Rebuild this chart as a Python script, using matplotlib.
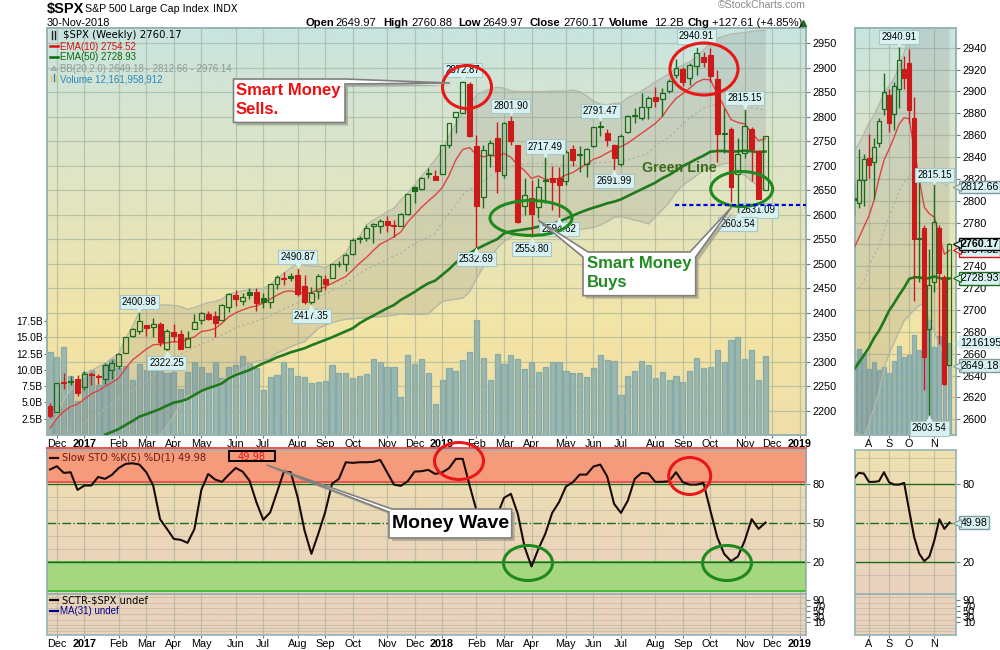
import numpy as np
import matplotlib
matplotlib.use("Agg")
import matplotlib.pyplot as plt
from matplotlib.colors import LinearSegmentedColormap
from matplotlib.patches import Ellipse, Polygon, Rectangle
from matplotlib.transforms import offset_copy

plt.rcParams['font.family'] = ['Liberation Sans', 'DejaVu Sans']

# ---------------- data (weekly bars) ----------------
opens = [2210,2198,2258.5,2259,2264.6,2249.6,2276,2272,2265,2284,
         2292.4,2319,2353,2363.8,2375,2370.5,2377.4,2327,2360.4,2356.3,
         2331,2368,2386,2398.4,2393,2385.5,2411,2435.8,2425,2442.6,
         2442.6,2430,2423,2458,2471,2474.5,2477.2,2454.8,2422,2445,
         2469,2471.8,2499,2499,2519.3,2552,2553.3,2577.1,2577.1,2586.6,
         2579.1,2577.7,2600.8,2655.9,2651.8,2684.4,2679,2682.4,2741.5,2798.5,
         2808,2866.5,2740.1,2635.5,2721.8,2756.4,2680.3,2791,2742.1,2618.5,
         2634,2616.4,2670.8,2674.9,2674.9,2668.1,2734,2724.5,2704,2740.8,
         2780.9,2766.6,2742.1,2703.4,2768,2802.5,2797.8,2818.9,2839.3,2835.2,
         2852.9,2884.1,2897,2879.4,2902.5,2920.8,2925.6,2876,2766,2774.7,
         2682.4,2725.2,2775.4,2730.6,2649.97]
highs = [2216,2258,2277,2271,2273,2281.6,2280,2275,2298.5,2304,
         2317.6,2350,2368.5,2400.98,2376,2389.6,2381,2366.5,2377.4,2365,
         2362,2398,2402.5,2404,2404.5,2419,2441,2446.6,2441,2451.4,
         2451.4,2440,2458,2477,2484,2480.6,2490.87,2477,2453.4,2479,
         2477,2499,2505.7,2521.4,2552,2557,2579,2582.5,2591,2597.4,
         2589,2602.9,2641.6,2658.6,2677.6,2694.6,2691.2,2741.5,2787,2810,
         2872.87,2870.5,2762.5,2742.1,2752.3,2788.3,2789.7,2801.9,2742.1,2674.2,
         2670.8,2674.2,2717.49,2699.3,2698,2732,2742.1,2740,2735.3,2778.5,
         2791.47,2774,2744.2,2763.9,2803.3,2816.9,2847.4,2842.7,2861,2857.6,
         2876,2916.7,2901.8,2908.6,2940.91,2932.3,2939.1,2895,2816.9,2778.2,
         2755.7,2815.15,2778.2,2732,2760.88]
lows = [2186,2198,2245,2253,2231,2243,2252,2255,2255,2265,
        2285.6,2319,2351.5,2357,2353,2351.5,2333,2322.25,2341.3,2327,
        2331,2368,2377,2385.5,2351.5,2385.5,2402.5,2414,2416,2428.3,
        2404.5,2409.3,2410.6,2448.7,2457,2465.6,2434,2418,2417.35,2427.6,
        2446.6,2470.4,2494,2486,2518,2542,2547,2543,2563.5,2565.5,
        2555.3,2577.7,2599.5,2623.3,2650.4,2674.2,2670.8,2682.4,2735.4,2766,
        2806.7,2759.1,2532.69,2613,2696.6,2645,2674.2,2742.1,2583.8,2599.5,
        2553.8,2592.7,2623.2,2609.7,2594.62,2660.6,2699.3,2687.8,2676.2,2738.7,
        2760.5,2740,2691.99,2699.3,2765.9,2786.3,2793.1,2795.1,2820.3,2801.2,
        2848.8,2878,2862.4,2864.4,2884.8,2901.8,2871.2,2708.2,2725.2,2626.7,
        2603.54,2716.3,2668.8,2631.09,2649.97]
closes = [2190,2258,2256,2262,2237.4,2275,2273.5,2269.4,2293,2297,
          2316,2350,2366.5,2383,2369,2377,2341,2362.4,2353,2327,
          2348,2382,2399,2387.5,2379.4,2415.4,2437.8,2429,2431.7,2436.4,
          2421,2423,2458,2472.4,2469.7,2472,2438.5,2422,2440,2475,
          2458,2499,2500.3,2518,2548.5,2550.6,2573.7,2581.2,2586.6,2579.8,
          2576.4,2600.8,2641.6,2649.1,2674.2,2682.4,2671.5,2741.5,2786.3,2808.7,
          2871,2760.5,2618.5,2731.3,2745.5,2689.8,2786.3,2750.3,2585.2,2639.5,
          2602.2,2656.5,2669.4,2666.7,2661.3,2727.9,2711.6,2721.1,2734,2778.1,
          2778.9,2752.3,2716.3,2760.5,2800.6,2801,2818.9,2837.9,2832.5,2848.8,
          2873.2,2899.7,2871.2,2904.5,2929,2912,2883.4,2764.5,2765,2657.2,
          2723.1,2780.2,2734,2632.56,2760.17]
volume = [12.7,11.9,13.5,9.05,5.17,9.7,9.9,7.6,10.85,11.6,
          10.2,10.6,8.4,10.85,9.9,10.4,10.4,9.5,9.6,7.0,
          9.6,11.15,10.5,9.5,11.15,8.8,10.5,10.7,12.1,11,
          10.2,6.9,8.85,9.15,11.15,10.2,9.05,8.85,7.9,8.1,
          8.3,10.7,9.5,9.5,8.7,9.0,9.3,11.6,11.15,10.5,
          10.5,5.9,12.2,10.85,11.6,9.5,4.7,8.4,10.2,9.75,
          11.5,12.7,17.6,11.8,8.4,12.4,10.85,12.2,11.6,10.1,
          11.15,9.6,10.4,11.15,11.15,9.8,9.5,9.5,8.85,10.2,
          12.2,11.45,11.3,6.2,9,9.8,11.3,10.7,8.7,9.6,
          8.5,9,8.1,9.8,11.75,10.2,10.5,13.1,11.15,14.5,
          15.1,11.6,13,8.4,12.16]
ema10 = [2165,2185,2199,2209,2214,2224,2235,2241,2250,2258,
         2267,2287,2304,2315,2326,2335,2336,2339,2341,2341,
         2346,2351,2362,2364,2368,2379,2392,2400,2406,2411,
         2414,2420,2428,2436,2443,2445,2441,2441,2441,2448,
         2453,2460,2467,2474,2487,2501,2513,2527,2540,2547,
         2555,2565,2585,2600,2615,2628,2640,2655,2680,2712,
         2733,2737,2722,2718,2722,2718,2725,2717,2701,2690,
         2674,2679,2672,2672,2674,2681,2686,2695,2703,2713,
         2718,2726,2733,2739,2746,2756,2766,2776,2786,2800,
         2820,2837,2847,2858,2870,2876,2875,2847,2820,2794,
         2788,2785,2767,2751,2754.52]
nan = float('nan')
ema50 = [nan,nan,nan,nan,nan,nan,nan,nan,2151.8,2157.3,
         2163.4,2171.5,2179.7,2188.5,2193.3,2198.7,2204.1,2210.9,2217,2219.8,
         2224.5,2232.7,2240.8,2246.3,2251,2256.4,2266.6,2273.4,2278.2,2283.6,
         2290.4,2297.2,2302.6,2309.4,2314.2,2319.6,2323.7,2327.8,2333.9,2339.3,
         2344.7,2350.2,2356.3,2362.4,2368.5,2378.7,2386.9,2394.3,2401.8,2409.3,
         2416,2426.3,2434.4,2442.6,2452,2460.2,2465.7,2477.2,2488.8,2502.3,
         2513.2,2521.4,2530,2537,2543.8,2550,2562,2566.2,2568.2,2570.3,
         2572.3,2575.7,2578.4,2581.1,2585.9,2592,2598.1,2604.2,2609.7,2614.4,
         2618.5,2623.2,2626.6,2631.4,2638.2,2645,2651.8,2658.6,2665.4,2674.2,
         2681,2689.8,2699.3,2706.1,2713.6,2720.4,2728.5,2729.9,2729.9,2728.5,
         2729.2,2730.6,2729.2,2727.8,2728.93]
bb_upper = [2168,2189,2222,2243,2256,2270,2282,2290,2297,2307,
            2318,2348,2372,2403,2411,2414,2416,2416,2415,2413,
            2407,2411,2416,2421,2423,2428,2439,2441,2445,2447,
            2448,2450,2457,2470,2481,2491,2501,2497,2495,2495,
            2492,2500,2511,2523,2545,2556,2579,2589,2597,2606,
            2613,2630,2644,2661,2678,2695,2712,2732,2759,2786,
            2807,2824,2844,2851,2856,2860,2858,2852,2851,2851,
            2851,2851,2851,2852,2852,2852,2854,2851,2842,2832,
            2825,2824,2827,2828,2838,2845,2852,2861,2871,2878,
            2888,2898,2905,2912,2922,2936,2949,2959,2964,2968,
            2970,2971,2974,2975,2976.14]
bb_mid = [2150,2153,2157,2162,2170,2178,2186,2194,2205,2214,
          2223,2232,2241,2251,2261,2272,2283,2296,2307,2316,
          2322,2330,2337,2342,2347,2355,2362,2370,2375,2379,
          2383,2388,2394,2402,2408,2414,2420,2430,2432,2434,
          2438,2445,2450,2460,2470,2480,2489,2495,2501,2509,
          2516,2521,2532,2541,2548,2554,2562,2585,2603,2620,
          2640,2652,2660,2668,2678,2688,2696,2699,2701,2703,
          2704,2705,2705,2703,2701,2701,2701,2702,2703,2705,
          2706,2707,2708,2710,2712,2716,2720,2726,2740,2750,
          2758,2772,2785,2797,2808,2817,2822,2826,2827,2826,
          2824,2821,2818,2815,2812.66]
bb_lower = [2132,2117,2092,2081,2084,2086,2090,2098,2113,2121,
            2128,2116,2110,2099,2111,2130,2150,2168,2189,2219,
            2231,2234,2237,2243,2253,2263,2270,2277,2287,2296,
            2301,2304,2307,2318,2324,2331,2337,2341,2355,2368,
            2375,2380,2384,2387,2388,2389,2390,2391,2392,2394,
            2395,2398,2397,2397,2397,2398,2411,2423,2426,2428,
            2430,2443,2470,2494,2511,2532,2545,2555,2560,2560,
            2560,2560,2561,2562,2563,2564,2567,2570,2572,2574,
            2579,2586,2595,2596,2593,2589,2586,2581,2596,2610,
            2625,2646,2660,2670,2680,2690,2695,2700,2704,2706,
            2690,2680,2668,2658,2649.18]
sto = [90.8,93.3,88.2,88.7,75.1,78.5,78.5,85.1,83.6,86.7,
       92,95.1,95.6,94.6,88.7,78.5,52.6,45.1,37.4,36.7,
       34.4,45.1,75.1,87.4,83.1,81.3,86.9,92,89.2,82.3,
       65.7,52.1,57.7,73.3,89.2,88.7,69.5,43.9,25.9,41.3,
       58,79.8,83.6,96.4,95.9,96.4,96.4,96.7,98.2,88.7,
       79.2,78.2,81.8,89.2,89.5,90.5,87.4,88.5,91.8,99,
       99,78.5,59.2,38.7,46.4,55.4,69,72.1,56.7,31,
       16.2,29.7,41.3,57.4,65.7,77.7,81,86.9,86.9,93.1,
       94.6,85.4,64.4,57.4,66.9,83.6,88.2,87.7,81.3,81.3,
       81.8,88.7,81,79.2,79.2,80.5,59.2,38.7,25.9,20.3,
       23.8,36.2,52.6,45.1,49.98]

price_ticks = list(range(2200, 2951, 50))
zoom_price_ticks = list(range(2600, 2941, 20))
volume_ticks = [2.5, 5.0, 7.5, 10.0, 12.5, 15.0, 17.5]
month_pos = [1,5,10,14,18,22,27,31,36,40,44,49,53,57,62,66,70,75,79,83,88,92,96,101,105,109]
month_labels = ['Dec','2017','Feb','Mar','Apr','May','Jun','Jul','Aug','Sep','Oct','Nov','Dec',
                '2018','Feb','Mar','Apr','May','Jun','Jul','Aug','Sep','Oct','Nov','Dec','2019']
zoom_month_pos = [88,92,96,101]
zoom_month_labels = ['A','S','O','N']
# (bar, price, text, vertical label offset in px)
main_peaks = [(13,2400.98,'2400.98',-10),(17,2322.25,'2322.25',12),(36,2490.87,'2490.87',-11),
              (38,2417.35,'2417.35',12),(62,2532.69,'2532.69',11.5),(70,2553.80,'2553.80',12),
              (74,2594.62,'2594.62',12),(60,2872.87,'2872.87',-11),(67,2801.90,'2801.90',-10),
              (72,2717.49,'2717.49',-10.5),(80,2791.47,'2791.47',-10),(82,2691.99,'2691.99',11.5),
              (94,2940.91,'2940.91',-11),(101,2815.15,'2815.15',-11),(103,2631.09,'2631.09',11),
              (100,2603.54,'2603.54',11)]
zoom_peaks = [(94,2940.91,'2940.91',-10),(101,2815.15,'2815.15',-9),(100,2603.54,'2603.54',13)]

# ---------------- layout helpers ----------------
W, H = 1000, 650
BORDER = '#96B4B4'
GRID = '#9FB09A'
CYAN = '#D8F2F2'
RED = '#CC1A1A'
GREEN = '#1A6B1A'
x = np.arange(len(closes))

def box(l, t, r, b):
    return [l / W, 1 - b / H, (r - l) / W, (b - t) / H]

main_cm = LinearSegmentedColormap.from_list('m', [(0, (200/255,228/255,224/255)), (.25, (218/255,228/255,205/255)),
    (.47, (228/255,228/255,188/255)), (.75, (243/255,228/255,165/255)), (1, (240/255,222/255,170/255))])
sto_cm = LinearSegmentedColormap.from_list('s', [(0, (240/255,226/255,175/255)), (.4, (236/255,218/255,182/255)),
    (1, (234/255,210/255,190/255))])

def backdrop(ax, cm):
    g = np.linspace(0, 1, 256).reshape(-1, 1)
    ax.imshow(g, aspect='auto', cmap=cm, extent=[0, 1, 0, 1], transform=ax.transAxes, zorder=0)

def frame(ax):
    for s in ax.spines.values():
        s.set_color(BORDER)
        s.set_linewidth(1.2)

def xaxis(ax, pos, labels, show):
    ax.set_xticks(pos)
    ax.set_xticklabels(labels if show else [''] * len(pos), fontsize=7.8)
    ax.tick_params(axis='x', length=2, pad=1, color='#777777')
    for t in ax.get_xticklabels():
        if t.get_text() in ('2017', '2018', '2019'):
            t.set_fontweight('bold')

def candles(ax, width, lw):
    o, h, l, c = map(np.array, (opens, highs, lows, closes))
    prev = np.r_[c[0] + 20, c[:-1]]
    up = c >= prev
    hollow = c > o
    cols = np.where(up, GREEN, RED)
    top, bot = np.maximum(o, c), np.minimum(o, c)
    ax.vlines(x, top, h, colors=cols, lw=lw, zorder=5)
    ax.vlines(x, l, bot, colors=cols, lw=lw, zorder=5)
    ax.bar(x[~hollow], (top - bot)[~hollow], bottom=bot[~hollow], width=width, color=cols[~hollow],
           edgecolor=cols[~hollow], linewidth=.8, zorder=6)
    ax.bar(x[hollow], (top - bot)[hollow], bottom=bot[hollow], width=width, facecolor='none',
           edgecolor=cols[hollow], linewidth=.9, zorder=6)

def overlays(ax):
    ax.fill_between(x, bb_lower, bb_upper, color='#7A7A7A', alpha=.18, lw=0, zorder=2)
    ax.plot(x, bb_upper, color='#B4B8A8', lw=1, zorder=3)
    ax.plot(x, bb_lower, color='#B4B8A8', lw=1, zorder=3)
    ax.plot(x, bb_mid, color='#B0B0A8', lw=1, ls=(0, (1.5, 2)), zorder=3)
    ax.plot(x, ema50, color='#1F7A1F', lw=1.9, zorder=4)
    ax.plot(x, ema10, color='#DC4444', lw=1, zorder=4)

def peak_labels(ax, items):
    for i, p, s, dy in items:
        ax.annotate(s, xy=(i, p), xytext=(0, -dy * .72), textcoords='offset points', ha='center', va='center',
                    fontsize=6.9, color='black', zorder=8, annotation_clip=False,
                    bbox=dict(boxstyle='square,pad=0.22', fc=CYAN, ec='#A8C8C8', lw=.8))
        mk = 'v' if dy < 0 else '^'
        tr = offset_copy(ax.transData, fig=ax.figure, x=0, y=(3.5 if dy < 0 else -3.5), units='dots')
        ax.plot([i], [p], marker=mk, ms=6, mfc=CYAN, mec='none', transform=tr, zorder=9, clip_on=False)

def volume_panel(rect, xlim, top, cm):
    ax = plt.axes(rect)
    backdrop(ax, cm)
    ax.bar(x, volume, width=.75, color='#7FAAB0', alpha=.75, edgecolor='#6FA0AC', linewidth=.9, zorder=1)
    ax.set_xlim(*xlim)
    ax.set_ylim(0, top)
    frame(ax)
    return ax

def price_panel(rect, xlim, ylim, ticks):
    ax = plt.axes(rect)
    ax.patch.set_alpha(0)
    ax.set_xlim(*xlim)
    ax.set_ylim(*ylim)
    ax.grid(True, color=GRID, lw=.9, alpha=.6)
    ax.set_axisbelow(True)
    ax.set_yticks(ticks)
    ax.yaxis.tick_right()
    ax.tick_params(axis='y', length=3, pad=2, labelsize=7.9, color='#777777')
    frame(ax)
    return ax

# ---------------- figure ----------------
fig = plt.figure(figsize=(W / 100, H / 100), dpi=100, facecolor='white')
main_xlim = (-0.436, 109.9)
zoom_xlim = (85.24, 105.3)

# main price panel
axV = volume_panel(box(47, 28, 806, 435), main_xlim, 407 / 6.52, main_cm)
axV.set_yticks(volume_ticks)
axV.set_yticklabels([f'{v:.1f}B' for v in volume_ticks], fontsize=7.4)
axV.tick_params(axis='y', length=2, pad=1, color='#777777')
axV.set_xticks([])
axP = price_panel(box(47, 28, 806, 435), main_xlim, (2151, 2980.6), price_ticks)
overlays(axP)
candles(axP, .72, 1)
xaxis(axP, month_pos, month_labels, True)
peak_labels(axP, main_peaks)

# zoomed price panel
axVr = volume_panel(box(855, 28, 956, 435), zoom_xlim, 407 / 7.6, main_cm)
axVr.set_xticks([])
axVr.set_yticks([])
axPr = price_panel(box(855, 28, 956, 435), zoom_xlim, (2585.6, 2958), zoom_price_ticks)
overlays(axPr)
candles(axPr, .8, 1)
xaxis(axPr, zoom_month_pos, zoom_month_labels, True)
peak_labels(axPr, zoom_peaks)

def tag(ax, y, s, ec, bold=False, z=9):
    tr = ax.get_yaxis_transform()
    ax.annotate(s, xy=(1.0, y), xycoords=tr, xytext=(3.2, 0), textcoords='offset points', va='center', ha='left',
                fontsize=7.7, fontweight='bold' if bold else 'normal', annotation_clip=False, zorder=z,
                bbox=dict(boxstyle='square,pad=0.12', fc=CYAN, ec=ec or 'none', lw=1))
    o = offset_copy(tr, fig=ax.figure, x=1, y=0, units='dots')
    ax.plot([1.0], [y], marker='<', ms=6, mfc=CYAN, mec=ec or CYAN, mew=.8, transform=o, clip_on=False, zorder=z)

tag(axVr, volume[-1], '1216195', None)
tag(axPr, 2812.66, '2812.66', '#7F9A9A')
tag(axPr, 2754.52, '2754.52', '#E01010', z=8)
tag(axPr, 2760.17, '2760.17', 'black', bold=True, z=10)
tag(axPr, 2728.93, '2728.93', GREEN)
tag(axPr, 2649.18, '2649.18', '#7F9A9A')

def sto_panel(rect, xlim, bands):
    ax = plt.axes(rect)
    backdrop(ax, sto_cm)
    ax.set_xlim(*xlim)
    ax.set_ylim(-4.6, 106.2)
    ax.set_yticks(np.arange(10, 101, 10), minor=True)
    ax.grid(True, axis='y', which='minor', color='#B5AFA0', lw=.7, alpha=.55)
    ax.grid(True, axis='x', color=GRID, lw=.9, alpha=.6)
    ax.set_axisbelow(True)
    if bands:
        ax.axhspan(81.5, 107, fc=(246/255,154/255,124/255), ec='#F05050', lw=1.4, zorder=1, clip_on=False)
        ax.axhspan(-2.3, 19.5, fc=(165/255,214/255,128/255), ec='#40BE32', lw=1.4, zorder=1)
    ax.axhline(80, color='#1E6A1E', lw=1, zorder=2)
    ax.axhline(20, color='#1E6A1E', lw=1, zorder=2)
    ax.axhline(50, color='#1E6A1E', lw=1, ls='-.', zorder=2)
    ax.plot(x, sto, color='#1A0A0A', lw=1.5, zorder=3)
    ax.set_yticks([20, 50, 80])
    ax.yaxis.tick_right()
    ax.tick_params(axis='y', length=3, pad=2, labelsize=7.9, color='#777777')
    ax.tick_params(axis='y', which='minor', length=0)
    frame(ax)
    return ax

def sctr_panel(rect, xlim):
    ax = plt.axes(rect)
    backdrop(ax, LinearSegmentedColormap.from_list('c', [(234/255,212/255,188/255), (234/255,210/255,190/255)]))
    ax.set_xlim(*xlim)
    ax.set_ylim(-33, 113)
    ax.set_yticks([90, 70, 50, 30, 10])
    ax.set_yticks(np.arange(-30, 111, 10), minor=True)
    ax.grid(True, axis='y', which='minor', color='#B5AFA0', lw=.7, alpha=.55)
    ax.grid(True, axis='x', color=GRID, lw=.9, alpha=.6)
    ax.set_axisbelow(True)
    ax.yaxis.tick_right()
    ax.tick_params(axis='y', length=3, pad=2, labelsize=7.9, color='#777777')
    ax.tick_params(axis='y', which='minor', length=0)
    frame(ax)
    return ax

axS = sto_panel(box(47, 449.5, 806, 593.5), main_xlim, True)
xaxis(axS, month_pos, month_labels, False)
axSr = sto_panel(box(855, 449.5, 956, 593.5), zoom_xlim, False)
xaxis(axSr, zoom_month_pos, zoom_month_labels, False)
tag(axSr, 49.98, '49.98', '#7F9A9A')
axC = sctr_panel(box(47, 593.5, 806, 634.5), main_xlim)
xaxis(axC, month_pos, month_labels, True)
axCr = sctr_panel(box(855, 593.5, 956, 634.5), zoom_xlim)
xaxis(axCr, zoom_month_pos, zoom_month_labels, True)

# ---------------- overlay: headings, legends and hand-drawn notes ----------------
ov = fig.add_axes([0, 0, 1, 1], zorder=20)
ov.set_xlim(0, W)
ov.set_ylim(H, 0)
ov.axis('off')
ov.patch.set_alpha(0)

def t(px, py, s, size=7.8, **kw):
    kw.setdefault('va', 'center')
    return ov.text(px, py, s, fontsize=size, **kw)

t(47, 9.5, '$SPX', 10.5, fontweight='bold')
t(85, 9.5, 'S&P 500 Large Cap Index', 7.7)
t(212.5, 9.5, 'INDX', 7, family='DejaVu Sans')
t(47, 22.5, '30-Nov-2018', 7.9)
for px, s, bold in [(306,'Open',1),(335,'2649.97',0),(383,'High',1),(411,'2760.88',0),(458,'Low',1),(482,'2649.97',0),
                    (530,'Close',1),(563,'2760.17',0),(609,'Volume',1),(654,'12.2B',0),(687,'Chg',1),
                    (712,'+127.61 (+4.85%)',0)]:
    t(px, 22.5, s, 8.1, fontweight='bold' if bold else 'normal')
ov.plot([802.5], [22.5], marker='^', ms=5, color='#1A6B1A', ls='none')
t(806, 4.5, '\u00a9StockCharts.com', 7.6, ha='right', color='#8A8A8A')

# legends of the main panel
t(63, 35.2, '$SPX (Weekly) 2760.17', 7.3, family='DejaVu Sans')
t(60.5, 46.5, 'EMA(10) 2754.52', 7, color='#DC1010')
t(60.5, 57.5, 'EMA(50) 2728.93', 7, color='#0A6A0A')
t(60.5, 68.5, 'BB(20,2.0) 2649.18 - 2812.66 - 2976.14', 7, color='#8E9A96')
t(60.5, 79, 'Volume 12,161,958,912', 7, color='#2A88B8')
ov.plot([50, 58], [46, 46], color='#DC1010', lw=1.8)
ov.plot([50, 58], [57, 57], color='#0A6A0A', lw=1.8)
ov.add_patch(Polygon([(50, 71), (54, 65), (58, 71)], fc='#A8B0AC', ec='none'))
for px, top, col in [(51, 76, '#E8C860'), (53.5, 74, '#2A88B8'), (56, 76, '#E8C860')]:
    ov.plot([px, px], [top, 81], color=col, lw=1)
ov.plot([52, 52], [31, 39], color='#222222', lw=1)
ov.plot([55, 55], [31, 39], color='#222222', lw=1)

# legends of the lower panels
ov.plot([50, 58], [457.5, 457.5], color='#2A0A0A', lw=1.6)
t(62, 457.5, 'Slow STO %K(5) %D(1) 49.98', 7.1, family='DejaVu Sans', color='#6B1A10')
ov.add_patch(Rectangle((229, 450.7), 46, 10.6, fc='none', ec='black', lw=1.4))
t(252, 456.5, '49.98', 7.1, color='#F01010', ha='center', family='DejaVu Sans')
ov.plot([50, 58], [600, 600], color='black', lw=1.6)
t(62, 600.5, 'SCTR-$SPX undef', 7.1, family='DejaVu Sans')
ov.plot([50, 58], [611, 611], color='#000090', lw=1.6)
t(60.5, 611.5, 'MA(31) undef', 7, color='#000090')

# hand-drawn circles
for cx, cy, w, h, c in [(467,87,49,43,'#E81818'),(704,69,68,52,'#E81818'),(459,461,49,37,'#E81818'),(689.7,476,42,37,'#E81818'),
                        (531,218,82,35,'#1E8A1E'),(741.7,189,62,35,'#1E8A1E'),(528,563,49,35,'#1E8A1E'),(727,563,49,35,'#1E8A1E')]:
    ov.add_patch(Ellipse((cx, cy), w, h, fc='none', ec=c, lw=2.2))

ov.plot([675, 806], [204.5, 204.5], color='#0000E0', lw=1.6, ls=(0, (1.9, 1.3)))
t(642, 168, 'Green Line', 10.3, fontweight='bold', color='#3B6E1C')

def callout(pts):
    shifted = [(a + 3, b + 3) for a, b in pts]
    ov.add_patch(Polygon(shifted, fc='#8C8878', ec='none', alpha=.55))
    ov.add_patch(Polygon(pts, fc='white', ec='#808080', lw=1.2))

callout([(233.5,79),(345,79),(450,83),(345,84),(345,122.5),(233.5,122.5)])
t(236, 90.5, 'Smart Money', 12, fontweight='bold', color='#EE1010')
t(236, 109.5, 'Sells.', 12, fontweight='bold', color='#EE1010')
callout([(588,252),(538,220),(583,257),(583,295.7),(695.7,295.7),(695.7,257),(731.7,207),(690,252)])
t(587, 263.5, 'Smart Money', 12, fontweight='bold', color='#228B22')
t(587, 282.5, 'Buys', 12, fontweight='bold', color='#228B22')
callout([(392,509),(266.7,465),(389,512),(389,538),(511.7,538),(511.7,509)])
t(450.5, 524, 'Money Wave', 14, fontweight='bold', ha='center')

fig.savefig('out.png', dpi=100, facecolor='white')
